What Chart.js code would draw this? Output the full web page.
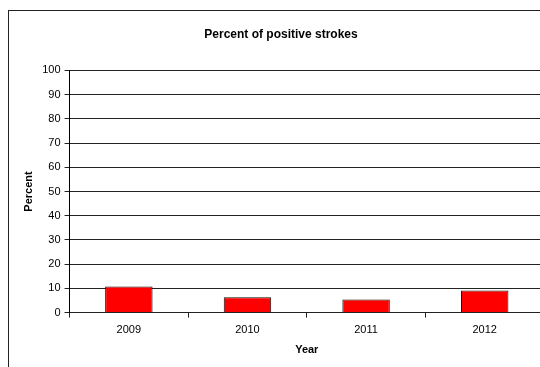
<!DOCTYPE html>
<html>
<head>
<meta charset="utf-8">
<script src="https://cdn.jsdelivr.net/npm/chart.js@4"></script>
<style>
  body { margin: 0; background: #fff; overflow: hidden; }
  #wrap { position: relative; width: 560px; height: 367px; }
</style>
</head>
<body>
<div id="wrap"><canvas id="myChart"></canvas></div>
<script>
  // values
  const years = ['2009', '2010', '2011', '2012'];
  const positivePct = [10.8, 6.3, 5.4, 9.1];
  const yMin = 0, yMax = 100, yStep = 10;

  const ctx = document.getElementById('myChart');

  // frame around the whole chart, as in the original (Excel) picture
  const frame = {
    id: 'frame',
    beforeDraw(chart) {
      const c = chart.ctx;
      c.save();
      c.fillStyle = '#fff';
      c.fillRect(0, 0, chart.width, chart.height);
      c.strokeStyle = '#222';
      c.lineWidth = 1;
      c.strokeRect(8.5, 10.5, chart.width, chart.height);
      c.restore();
    }
  };

  Chart.defaults.font.family = '"Liberation Sans", Arial, sans-serif';
  Chart.defaults.color = '#000';

  new Chart(ctx, {
    type: 'bar',
    data: {
      labels: years,
      datasets: [{
        label: 'Percent',
        data: positivePct,
        backgroundColor: '#ff0000',
        borderColor: '#111',
        borderWidth: 1,
        barPercentage: 0.40,
        categoryPercentage: 1
      }]
    },
    options: {
      responsive: true,
      maintainAspectRatio: false,
      animation: false,
      layout: { padding: { left: 18, right: 16, top: 12, bottom: 6 } },
      plugins: {
        legend: { display: false },
        tooltip: { enabled: false },
        title: {
          display: true,
          text: 'Percent of positive strokes',
          font: { size: 12, weight: 'bold' },
          padding: { top: 15, bottom: 29 }
        }
      },
      scales: {
        x: {
          grid: { drawOnChartArea: false, drawTicks: true, tickLength: 5, color: '#222', offset: true },
          border: { color: '#222' },
          ticks: { font: { size: 11 }, padding: 6 },
          title: { display: true, text: 'Year', font: { size: 11, weight: 'bold' }, padding: { top: 1 } }
        },
        y: {
          min: yMin,
          max: yMax,
          grid: { color: '#222', tickLength: 5 },
          border: { color: '#000' },
          ticks: { stepSize: yStep, font: { size: 11 }, padding: 4 },
          title: { display: true, text: 'Percent', font: { size: 11, weight: 'bold' }, padding: { top: 4, bottom: 3 } }
        }
      }
    },
    plugins: [frame]
  });
</script>
</body>
</html>
